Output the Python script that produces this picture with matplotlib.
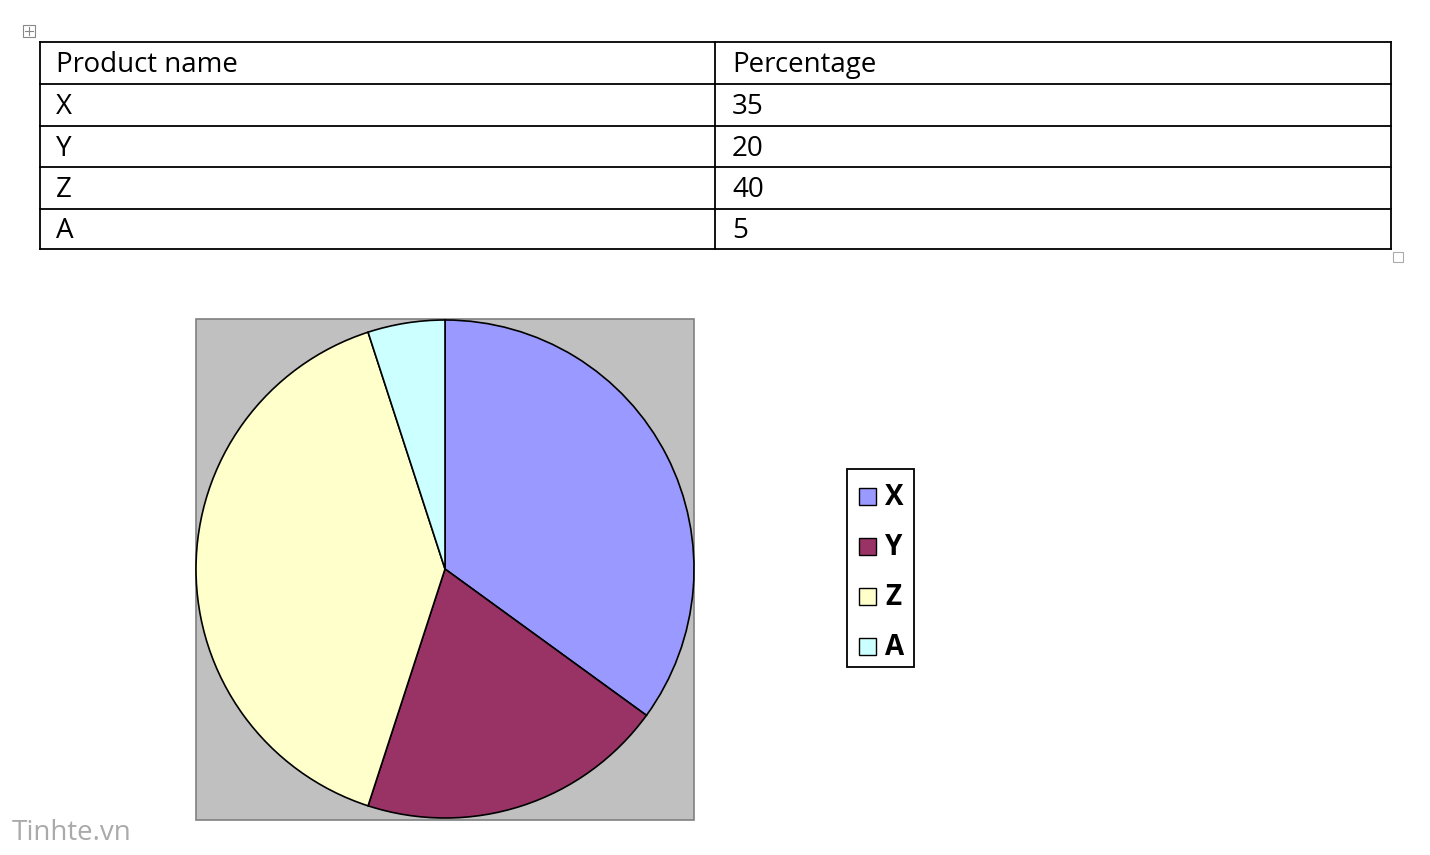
import matplotlib
matplotlib.use("Agg")
import matplotlib.pyplot as plt
from matplotlib.patches import Rectangle

products = ["X", "Y", "Z", "A"]
percentages = [35, 20, 40, 5]
colors = ["#9999FF", "#993366", "#FFFFCC", "#CCFFFF"]
headers = ["Product name", "Percentage"]

fig = plt.figure(figsize=(14.3, 8.55), dpi=100)
ax = fig.add_axes([0, 0, 1, 1])
ax.set_xlim(0, 1430)
ax.set_ylim(855, 0)
ax.axis("off")

# table
x0, x1, xm = 40, 1391, 715
ys = [42, 84, 126, 167, 209, 249]
for y in ys:
    ax.plot([x0, x1], [y, y], color="black", lw=1.3)
for x in (x0, xm, x1):
    ax.plot([x, x], [ys[0], ys[-1]], color="black", lw=1.3)
rows = [headers] + [[p, str(v)] for p, v in zip(products, percentages)]
for i, (a, b) in enumerate(rows):
    yc = (ys[i] + ys[i + 1]) / 2 + 2
    ax.text(56, yc, a, fontsize=20, va="center", family="Open Sans")
    ax.text(732, yc, b, fontsize=20, va="center", family="Open Sans")
ax.add_patch(Rectangle((23, 25), 12, 12, fill=False, ec="#888888", lw=0.8))
ax.plot([25, 33], [31, 31], color="#888888", lw=0.8)
ax.plot([29, 29], [27, 35], color="#888888", lw=0.8)
ax.add_patch(Rectangle((1393, 252), 10, 10, fill=False, ec="#aaaaaa", lw=0.8))

# plot area
ax.add_patch(Rectangle((196, 319), 498, 501, fc="#C0C0C0", ec="#808080", lw=1.2))
ax.pie(percentages, colors=colors, center=(445, 569), radius=249,
       startangle=-90, counterclock=True, frame=True,
       wedgeprops=dict(edgecolor="black", linewidth=1.2))
ax.set_xlim(0, 1430)
ax.set_ylim(855, 0)
ax.set_aspect("auto")
ax.axis("off")

# legend
ax.add_patch(Rectangle((847, 469), 67, 198, fc="white", ec="black", lw=1.3))
for i, (p, c) in enumerate(zip(products, colors)):
    yc = 496 + i * 50
    ax.add_patch(Rectangle((859, yc - 8), 17, 17, fc=c, ec="black", lw=1))
    ax.text(885, yc + 1, p, fontsize=20, fontweight="bold", va="center", family="Open Sans")

ax.text(12, 833, "Tinhte.vn", fontsize=20, color="#AAAAAA", va="center", family="Open Sans")

fig.savefig("out.png", dpi=100)
